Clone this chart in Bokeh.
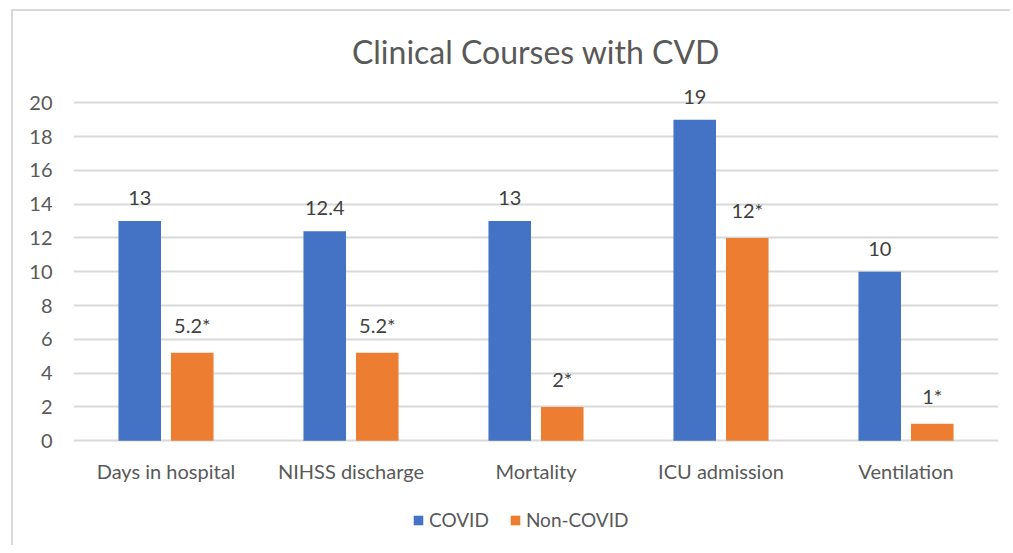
from bokeh.plotting import figure
from bokeh.models import (ColumnDataSource, FactorRange, Range1d, FixedTicker, Legend,
                          LegendItem)
from bokeh.transform import dodge
from bokeh.core.properties import value
from bokeh.embed import file_html
from bokeh.resources import INLINE

categories = ["Days in hospital", "NIHSS discharge", "Mortality", "ICU admission", "Ventilation"]
covid = [13, 12.4, 13, 19, 10]
non_covid = [5.2, 5.2, 2, 12, 1]
covid_labels = ["13", "12.4", "13", "19", "10"]
non_covid_labels = ["5.2*", "5.2*", "2*", "12*", "1*"]
y_ticks = [0, 2, 4, 6, 8, 10, 12, 14, 16, 18, 20]

BLUE = "#4472C4"
ORANGE = "#ED7D31"
FONT = "Lato"
GREY = "#595959"

src = ColumnDataSource(dict(cat=categories, covid=covid, non=non_covid,
                            cl=covid_labels, nl=non_covid_labels))

p = figure(x_range=FactorRange(*categories, range_padding=0),
           y_range=Range1d(-6.2, 21.2),
           frame_width=925, frame_height=463,
           output_backend="svg", toolbar_location=None,
           min_border_left=60, min_border_right=12, min_border_top=71, min_border_bottom=0)
p.styles = {"border-left": "2px solid #d9d9d9", "border-top": "2px solid #d9d9d9",
            "margin-left": "11px", "margin-top": "9px"}

p.title.text = "Clinical Courses with CVD"
p.title.align = "center"
p.title.text_font = FONT
p.title.text_font_size = "32px"
p.title.text_font_style = "normal"
p.title.text_color = GREY
p.title.standoff = 23

r1 = p.vbar(x=dodge("cat", -0.142, range=p.x_range), top="covid", width=0.23, source=src,
            fill_color=BLUE, line_color=None)
r2 = p.vbar(x=dodge("cat", 0.142, range=p.x_range), top="non", width=0.23, source=src,
            fill_color=ORANGE, line_color=None)

p.text(x=dodge("cat", -0.142, range=p.x_range), y="covid", text="cl", source=src,
       text_align="center", text_baseline="bottom", y_offset=-16,
       text_font=value(FONT), text_font_size="20px", text_color="#404040")
p.text(x=dodge("cat", 0.142, range=p.x_range), y="non", text="nl", source=src,
       text_align="center", text_baseline="bottom", y_offset=-16,
       text_font=value(FONT), text_font_size="20px", text_color="#404040")

# category labels under the zero line
p.text(x="cat", y=0, text="cat", source=src,
       text_align="center", text_baseline="middle", y_offset=30,
       text_font=value(FONT), text_font_size="20px", text_color=GREY)

p.xaxis.visible = False
p.yaxis.ticker = FixedTicker(ticks=y_ticks)
p.ygrid.ticker = FixedTicker(ticks=y_ticks)
p.ygrid.grid_line_color = "#d9d9d9"
p.ygrid.grid_line_width = 2
p.xgrid.grid_line_color = None
p.outline_line_color = None

p.yaxis.axis_line_color = None
p.yaxis.major_tick_line_color = None
p.yaxis.minor_tick_line_color = None
p.yaxis.major_label_text_font = FONT
p.yaxis.major_label_text_font_size = "20px"
p.yaxis.major_label_text_color = GREY
p.yaxis.major_label_standoff = 15

legend = Legend(items=[LegendItem(label="COVID", renderers=[r1]),
                       LegendItem(label="Non-COVID", renderers=[r2])],
                orientation="horizontal", location=(339, 14),
                label_text_font=FONT, label_text_font_size="19px", label_text_color=GREY,
                glyph_width=12, glyph_height=12, spacing=20, margin=0, padding=0,
                border_line_color=None, background_fill_alpha=0)
p.add_layout(legend)

open("out.html", "w").write(file_html(p, INLINE))
